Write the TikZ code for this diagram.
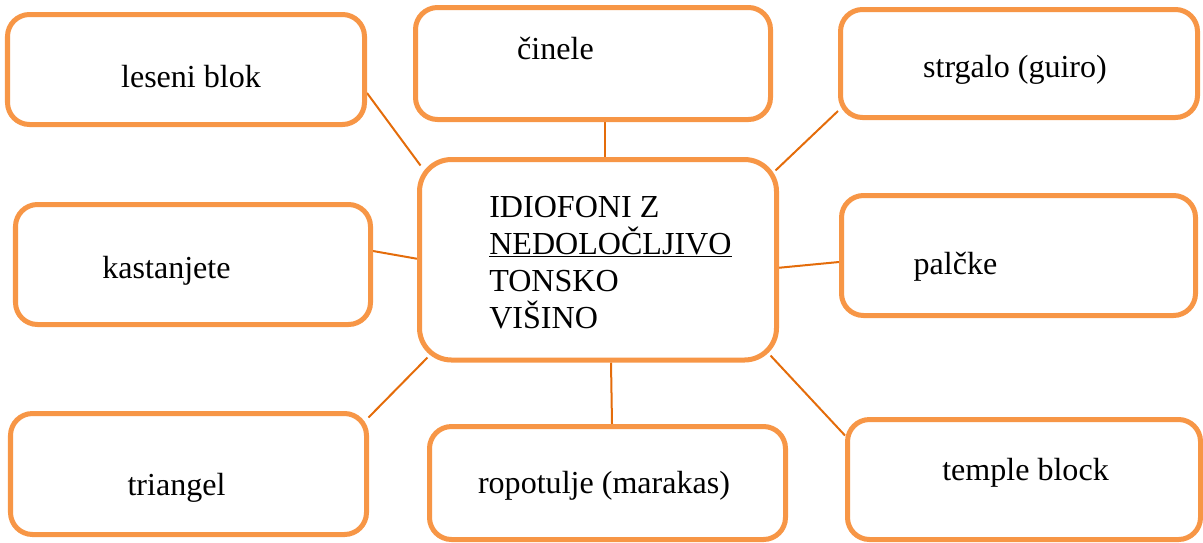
\documentclass[tikz,border=0pt]{standalone}
\usepackage{fontspec}
\setmainfont{Liberation Serif}
\usepackage{xcolor}
\usepackage{tikz}
\usetikzlibrary{calc}
\usetikzlibrary{backgrounds}

\definecolor{boxorange}{HTML}{F79646}
\definecolor{linkorange}{HTML}{E46C0A}

\tikzset{
  box/.style 2 args={draw=boxorange, fill=white, line width=0.125cm,
    rounded corners=0.55cm, minimum width=#1*0.025cm, minimum height=#2*0.025cm, inner sep=0pt},
  lbl/.style={anchor=base, inner sep=0pt, font=\fontsize{22.8}{26.3}\selectfont},
  link/.style={draw=linkorange, line width=0.05cm}
}

\begin{document}
\begin{tikzpicture}[x=0.025cm, y=-0.025cm]
    \useasboundingbox (0,0) rectangle (1203,542);

    % Nodes
    \node[box={357}{200.5}, rounded corners=0.8cm] (idio) at (598,259.75) {};
    \node[box={357}{110}] (lesni) at (186,69.5) {};
    \node[box={355}{112}] (cinele) at (593,63.5) {};
    \node[box={357}{108}] (strgalo) at (1019,63.5) {};
    \node[box={355}{120}] (kast) at (193,264.5) {};
    \node[box={354}{120}] (palcke) at (1018.5,255.5) {};
    \node[box={356}{121}] (triangel) at (188.5,474) {};
    \node[box={356}{113}] (ropot) at (607.5,483) {};
    \node[box={353}{120}] (temple) at (1024,479.5) {};

    % Texts (base of a multi-line node is its last line)
    \node[lbl, anchor=base west, align=left] (t-idio) at (489,328)
      {IDIOFONI Z\\ \underline{NEDOLOČLJIVO}\\ TONSKO\\ VIŠINO};
    \node[lbl] (t-lesni) at (191,87) {leseni blok};
    \node[lbl] (t-cinele) at (555.5,59) {činele};
    \node[lbl] (t-strgalo) at (1015,77) {strgalo (guiro)};
    \node[lbl] (t-kast) at (166.5,278) {kastanjete};
    \node[lbl] (t-palcke) at (955.5,274) {palčke};
    \node[lbl] (t-triangel) at (176.5,495) {triangel};
    \node[lbl] (t-ropot) at (604,493) {ropotulje (marakas)};
    \node[lbl] (t-temple) at (1025.5,480) {temple block};

    % Edges
    \begin{scope}[on background layer]
    \draw[link] ($(lesni.east)+(0,23.5)$) -- ($(idio.north west)+(3.5,8.5)$);
    \draw[link] ($(cinele.south)+(12,0)$) -- ($(idio.north)+(7,0)$);
    \draw[link] ($(strgalo.south west)+(0,-9)$) -- ($(idio.north east)+(-3.5,13.5)$);
    \draw[link] ($(kast.east)+(0,-13.5)$) -- ($(idio.west)+(0,-1)$);
    \draw[link] ($(idio.east)+(0,8)$) -- ($(palcke.west)+(0,6.5)$);
    \draw[link] ($(triangel.north east)+(-0.5,6.5)$) -- ($(idio.south west)+(10.5,-5)$);
    \draw[link] ($(idio.south)+(13,0)$) -- ($(ropot.north)+(4.5,0)$);
    \draw[link] ($(idio.south east)+(-8.5,-7)$) -- ($(temple.north west)+(0,18.5)$);
    \end{scope}
\end{tikzpicture}
\end{document}
